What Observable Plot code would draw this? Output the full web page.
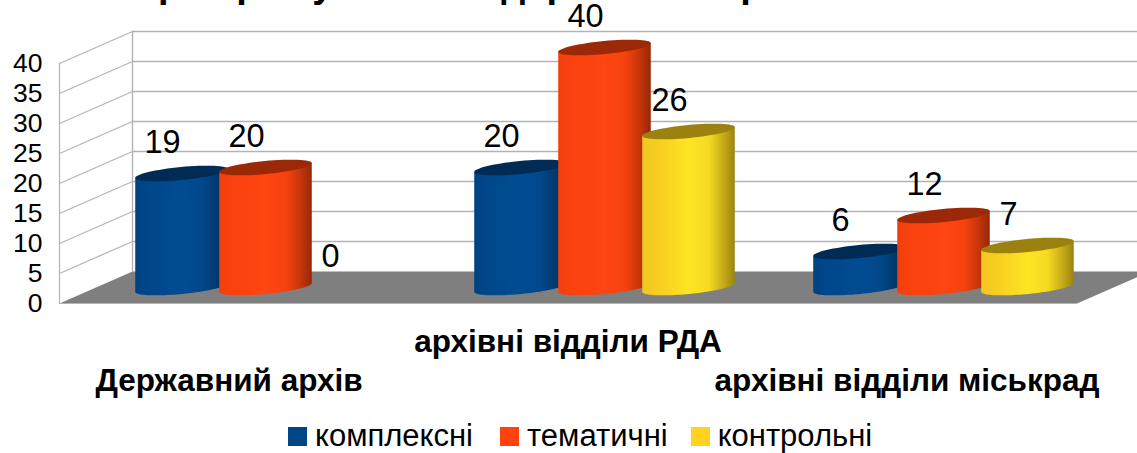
<!DOCTYPE html>
<html lang="uk">
<head>
<meta charset="utf-8">
<script src="https://cdn.jsdelivr.net/npm/d3@7"></script>
<script src="https://cdn.jsdelivr.net/npm/@observablehq/plot@0.6"></script>
<style>
  html, body { margin: 0; padding: 0; background: #fff; overflow: hidden; }
  body { position: relative; width: 1137px; height: 453px; font-family: "Liberation Sans", sans-serif; color: #000; }
  #title { position: absolute; left: 12px; top: -35px; margin: 0; font-size: 38px; line-height: 38px; font-weight: bold; white-space: nowrap; }
  #chart { position: absolute; left: 0; top: 0; }
  #legend { position: absolute; left: 288px; top: 418px; display: flex; align-items: center; font-size: 31px; line-height: 36px; }
  #legend span.sw { width: 19px; height: 19px; margin-right: 8px; display: inline-block; }
  #legend span.lb { margin-right: 23px; }
  #legend span.lb:nth-of-type(2) { margin-right: 27px; }
</style>
</head>
<body>
<h2 id="title"></h2>
<div id="chart"></div>
<div id="legend"></div>
<script>
const titleText = "Типи перевірок у міських державних архівах";
const categories = ["Державний архів", "архівні відділи РДА", "архівні відділи міськрад"];
const seriesNames = ["комплексні", "тематичні", "контрольні"];
const complexValues = [19, 20, 6];
const thematicValues = [20, 40, 12];
const controlValues = [0, 26, 7];
const yTicks = [0, 5, 10, 15, 20, 25, 30, 35, 40];

const rows = [complexValues, thematicValues, controlValues].flatMap((vals, s) =>
  vals.map((value, c) => ({category: categories[c], series: seriesNames[s], value}))
);

const swatch = {"комплексні": "#004586", "тематичні": "#ff420e", "контрольні": "#ffd320"};
const topFill = {"комплексні": "#002b55", "тематичні": "#9b2908", "контрольні": "#9b8210"};
const grads = {
  "комплексні": [[0,"#00427f"],[.12,"#00468a"],[.5,"#004c93"],[.72,"#00488a"],[.87,"#003a6f"],[1,"#002b55"]],
  "тематичні": [[0,"#f33f0d"],[.15,"#f9420e"],[.5,"#ff4510"],[.72,"#f7420e"],[.87,"#c9360b"],[1,"#962808"]],
  "контрольні": [[0,"#f2c720"],[.2,"#f8cf20"],[.5,"#fde524"],[.72,"#f5da22"],[.87,"#c8ad18"],[1,"#9a8410"]]
};

// layout of the pseudo-3D box
const W = 1137, H = 417, mL = 58.5, mR = 61, mT = 63, mB = H - 303;
const depthX = 73, depthY = 32, gridColor = "#b3b3b3";
const semiA = 46.5, semiB = 6.5, tilt = -5.5 * Math.PI / 180;
const ell = t => [
  semiA * Math.cos(t) * Math.cos(tilt) - semiB * Math.sin(t) * Math.sin(tilt),
  semiA * Math.cos(t) * Math.sin(tilt) + semiB * Math.sin(t) * Math.cos(tilt)
];
const tL = Math.atan2(semiB * Math.sin(tilt), semiA * Math.cos(tilt)) + Math.PI;
const tR = tL - Math.PI;
const ellipseSymbol = {
  draw(ctx) {
    for (let i = 0; i < 64; ++i) {
      const [px, py] = ell(i / 64 * 2 * Math.PI);
      i ? ctx.lineTo(px, py) : ctx.moveTo(px, py);
    }
    ctx.closePath();
  }
};
const cylinderShape = {
  draw(ctx, l) {
    const n = 48;
    for (let i = 0; i <= n; ++i) {           // front of the base, left to right
      const t = tL - (i / n) * (tL - tR);
      const [px, py] = ell(t);
      i ? ctx.lineTo(px, py) : ctx.moveTo(px, py);
    }
    const [rx, ry] = ell(tR), [lx, ly] = ell(tL);
    ctx.lineTo(rx, ry - l);
    ctx.lineTo(lx, ly - l);
    ctx.closePath();
  }
};
const lineShape = {draw(ctx, l) { ctx.moveTo(0, 0); ctx.lineTo(0, -l); }};
const floorShape = {
  draw(ctx) {
    const w = W - mL - mR;
    ctx.moveTo(0, 0); ctx.lineTo(w, 0); ctx.lineTo(w + depthX, -depthY); ctx.lineTo(depthX, -depthY); ctx.closePath();
  }
};

const defs = () => {
  const ns = "http://www.w3.org/2000/svg";
  const d = document.createElementNS(ns, "defs");
  seriesNames.forEach((name, i) => {
    const g = document.createElementNS(ns, "linearGradient");
    g.setAttribute("id", "cyl" + i);
    grads[name].forEach(([o, c]) => {
      const s = document.createElementNS(ns, "stop");
      s.setAttribute("offset", o);
      s.setAttribute("stop-color", c);
      g.appendChild(s);
    });
    d.appendChild(g);
  });
  return d;
};

const seriesMarks = seriesNames.flatMap((name, i) => {
  const data = rows.filter(d => d.series === name && d.value > 0);
  return [
    Plot.vector(data, {
      fx: "category", x: "series", y: () => 0, length: "value", anchor: "start", rotate: 0,
      shape: cylinderShape, fill: `url(#cyl${i})`, stroke: "none", dx: depthX / 2, dy: -depthY / 2
    }),
    Plot.dot(data, {
      fx: "category", x: "series", y: "value", symbol: ellipseSymbol, r: semiA,
      fill: topFill[name], stroke: "none", dx: depthX / 2, dy: -depthY / 2
    })
  ];
});

const first = {fx: () => categories[0]};

const plot = Plot.plot({
  width: W, height: H, marginLeft: mL, marginRight: mR, marginTop: mT, marginBottom: mB,
  style: {fontFamily: '"Liberation Sans", sans-serif', color: "#000", background: "transparent", overflow: "visible"},
  fx: {domain: categories, padding: 0, axis: null, label: null},
  x: {type: "band", domain: seriesNames, range: [mL + 42.75, mL + 42.75 + 253.5], padding: 0, axis: null, label: null},
  y: {domain: [0, 40], label: null, axis: null},
  length: {type: "linear", domain: [0, 40], range: [0, 240]},
  marks: [
    defs,
    // floor
    Plot.vector([0], {...first, y: d => d, frameAnchor: "left", length: 1, anchor: "start", shape: floorShape, fill: "#7f7f7f", stroke: "none"}),
    Plot.ruleY([0], {stroke: gridColor, strokeWidth: 1.2}),
    // back wall grid
    Plot.ruleY(yTicks.slice(1), {stroke: gridColor, strokeWidth: 1.4, dx: depthX, dy: -depthY}),
    // side wall grid
    Plot.vector(yTicks.slice(1), {
      ...first, y: d => d, frameAnchor: "left", length: Math.hypot(depthX, depthY),
      rotate: Math.atan2(depthX, depthY) * 180 / Math.PI, anchor: "start", shape: lineShape,
      stroke: gridColor, strokeWidth: 1.2
    }),
    // vertical wall edges
    Plot.vector([0], {...first, y: d => d, frameAnchor: "left", length: d => 40, anchor: "start", shape: lineShape, stroke: gridColor, strokeWidth: 1.2}),
    Plot.vector([0], {...first, y: d => d, frameAnchor: "left", length: d => 40, anchor: "start", shape: lineShape, stroke: gridColor, strokeWidth: 1.4, dx: depthX, dy: -depthY}),
    Plot.axisY({ticks: yTicks, tickSize: 0, tickPadding: 0, dx: -17, label: null, fontSize: 26.5, anchor: "left", fill: "#000"}),
    ...seriesMarks,
    Plot.text(rows, {
      fx: "category", x: "series", y: "value", text: d => String(d.value),
      fontSize: 32.5, dx: 17.5, dy: -47, fill: "#000", lineAnchor: "middle", textAnchor: "middle"
    }),
    Plot.text(categories.filter((d, i) => i === 1), {
      fx: d => d, x: () => seriesNames[1], y: () => 0, text: d => d, dy: 38, fontSize: 31.5, fontWeight: "bold", fill: "#000"
    }),
    Plot.text(categories.filter((d, i) => i !== 1), {
      fx: d => d, x: () => seriesNames[1], y: () => 0, text: d => d, dy: 77, fontSize: 31.5, fontWeight: "bold", fill: "#000"
    })
  ]
});
document.getElementById("chart").append(plot);

document.getElementById("title").textContent = titleText;
const legend = document.getElementById("legend");
seriesNames.forEach(name => {
  const sw = document.createElement("span");
  sw.className = "sw";
  sw.style.background = swatch[name];
  const lb = document.createElement("span");
  lb.className = "lb";
  lb.textContent = name;
  legend.append(sw, lb);
});
</script>
</body>
</html>
